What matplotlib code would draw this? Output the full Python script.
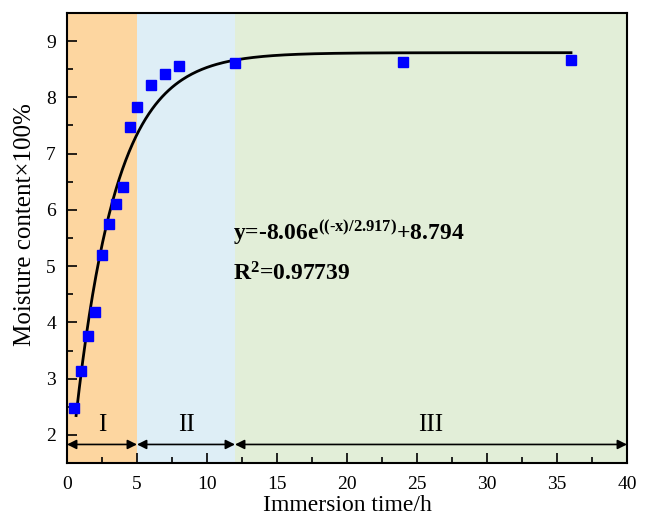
import numpy as np
import matplotlib
matplotlib.use("Agg")
import matplotlib.pyplot as plt
from matplotlib.ticker import MultipleLocator

plt.rcParams['font.family'] = 'Liberation Serif'
plt.rcParams['mathtext.fontset'] = 'custom'
plt.rcParams['mathtext.rm'] = 'Liberation Serif:bold'
plt.rcParams['mathtext.it'] = 'Liberation Serif:bold'
plt.rcParams['mathtext.bf'] = 'Liberation Serif:bold'

# measured data
time_h = [0.5, 1, 1.5, 2, 2.5, 3, 3.5, 4, 4.5, 5, 6, 7, 8, 12, 24, 36]
moisture = [2.48, 3.13, 3.76, 4.18, 5.19, 5.74, 6.10, 6.40, 7.48, 7.83,
            8.22, 8.41, 8.55, 8.61, 8.63, 8.67]

# fitted curve parameters
fit_a = -8.06
fit_t = 2.917
fit_c = 8.794
fit_start, fit_end = 0.65, 36

# stages
stage_edges = [0, 5, 12, 40]
stage_names = ['I', 'II', 'III']
stage_colors = ['#FDD6A0', '#DEEEF6', '#E2EED8']

fig = plt.figure(figsize=(6.46, 5.17), dpi=100)
ax = fig.add_axes([0.1037, 0.1044, 0.8669, 0.8705])

for i in range(3):
    ax.axvspan(stage_edges[i], stage_edges[i + 1], color=stage_colors[i],
               lw=0, zorder=0)
    ax.annotate('', xy=(stage_edges[i], 1.83), xytext=(stage_edges[i + 1], 1.83),
                arrowprops=dict(arrowstyle='<|-|>', color='black', lw=1.2,
                                mutation_scale=14, shrinkA=0, shrinkB=0))
    ax.text((stage_edges[i] + stage_edges[i + 1]) / 2, 2.17, stage_names[i],
            ha='center', va='center', fontsize=18)

xf = np.linspace(fit_start, fit_end, 300)
yf = fit_a * np.exp(-xf / fit_t) + fit_c
ax.plot(xf, yf, color='black', lw=2, zorder=3)
ax.plot(time_h, moisture, 's', color='#0000FF', ms=7.5, zorder=4)

ax.text(11.86, 5.46, 'y=-8.06e$^{((\u2010x)/2.917)}$+8.794', fontsize=17,
        fontweight='bold', ha='left', va='baseline')
ax.text(11.86, 4.74, 'R$^{2}$=0.97739', fontsize=17,
        fontweight='bold', ha='left', va='baseline')

ax.set_xlim(0, 40)
ax.set_ylim(1.5, 9.5)
ax.xaxis.set_major_locator(MultipleLocator(5))
ax.xaxis.set_minor_locator(MultipleLocator(2.5))
ax.yaxis.set_major_locator(MultipleLocator(1))
ax.yaxis.set_minor_locator(MultipleLocator(0.5))
ax.tick_params(which='both', direction='in', labelsize=14, width=1.2)
ax.tick_params(which='major', length=7)
ax.tick_params(which='minor', length=4)
ax.tick_params(axis='x', pad=9)
ax.tick_params(axis='y', pad=8)
for s in ax.spines.values():
    s.set_linewidth(1.5)

ax.set_xlabel('Immersion time/h', fontsize=17, va='top')
ax.set_ylabel('Moisture content×100%', fontsize=18)
ax.xaxis.set_label_coords(0.5, -0.072)
ax.yaxis.set_label_coords(-0.055, 0.53)

fig.savefig('out.png', dpi=100)
